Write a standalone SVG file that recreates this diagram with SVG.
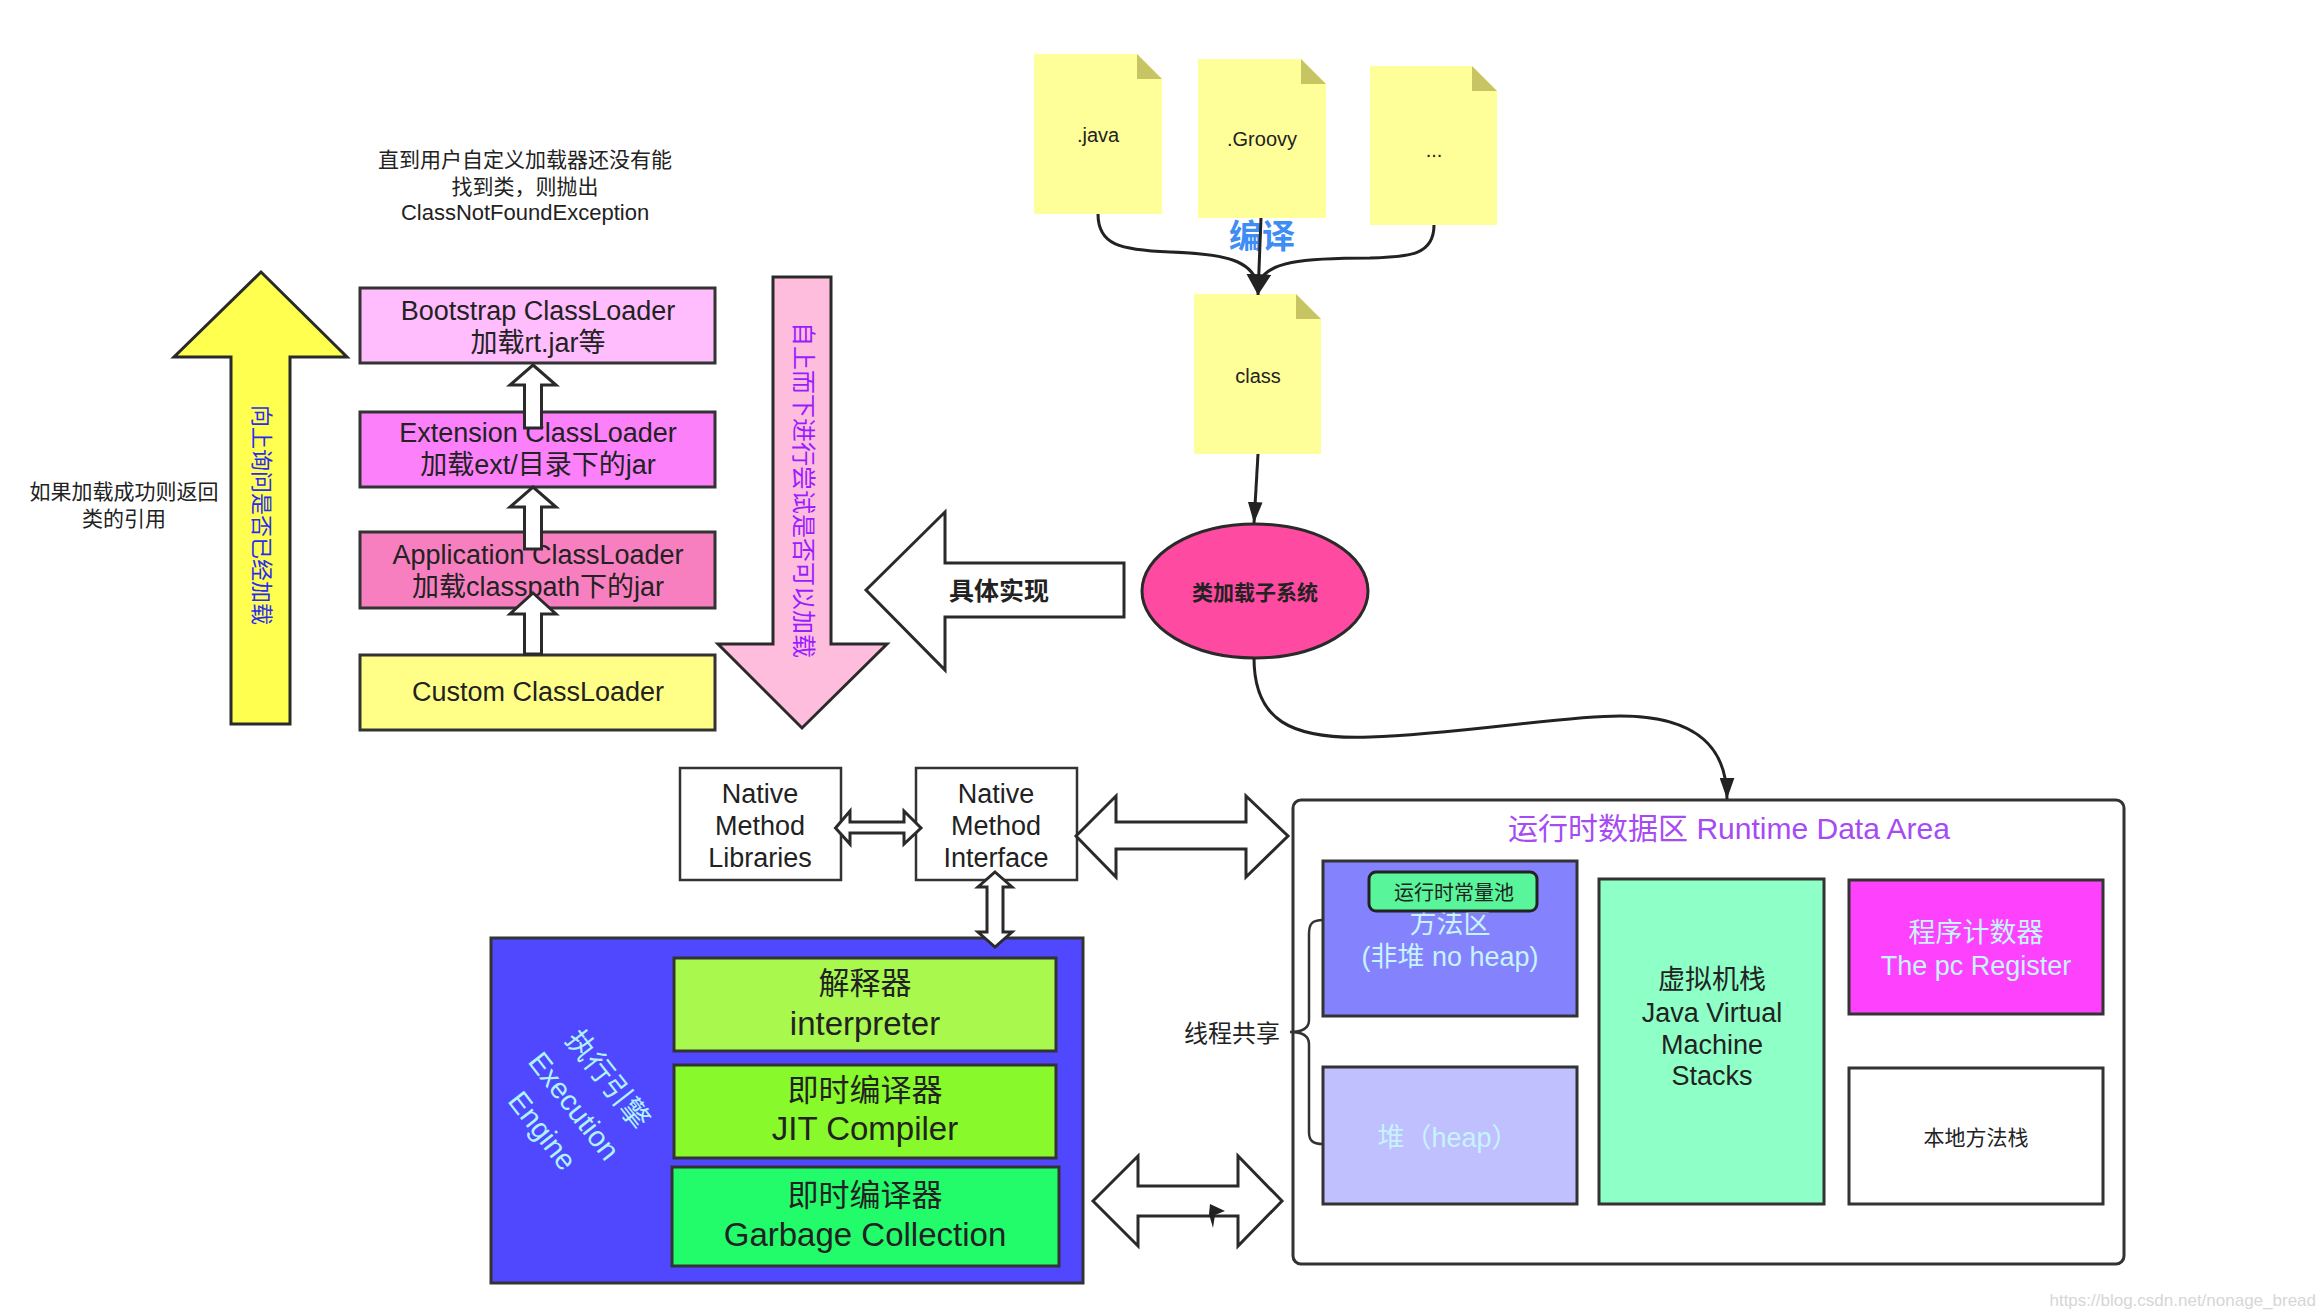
<svg xmlns="http://www.w3.org/2000/svg" width="2320" height="1316" viewBox="0 0 2320 1316">
<style>
text{font-family:'Liberation Sans','Noto Sans CJK SC',sans-serif;dominant-baseline:central;text-anchor:middle;fill:#222}
.box{stroke:#333;stroke-width:3}
.hollow{fill:#fff;stroke:#2a2a2a;stroke-width:3;stroke-linejoin:miter}
.conn{fill:none;stroke:#222;stroke-width:3}
.file{fill:#ffff99}
.fold{fill:#c7c463}
.t20{font-size:20px}
.t21{font-size:21px}
.t27{font-size:27px}
.t31{font-size:31px}
.t33{font-size:33px}
.light{fill:#c6f4ff}
</style>
<defs>
<marker id="arr" viewBox="0 0 20 14" refX="20" refY="7" markerWidth="21" markerHeight="15" markerUnits="userSpaceOnUse" orient="auto"><path d="M0,0 L20,7 L0,14 z" fill="#222"/></marker>
<marker id="arrBig" viewBox="0 0 20 24" refX="20" refY="12" markerWidth="21" markerHeight="25" markerUnits="userSpaceOnUse" orient="auto"><path d="M0,0 L20,12 L0,24 z" fill="#222"/></marker>
</defs>
<rect width="2320" height="1316" fill="#fff"/>

<!-- notes -->
<g id="note-top">
<text class="t21" x="525" y="159">直到用户自定义加载器还没有能</text>
<text class="t21" x="525" y="186">找到类，则抛出</text>
<text x="525" y="212" style="font-size:22px">ClassNotFoundException</text>
</g>
<g id="note-left">
<text class="t21" x="124" y="491">如果加载成功则返回</text>
<text class="t21" x="124" y="518">类的引用</text>
</g>

<!-- big arrows -->
<g id="arrow-up">
<polygon points="261,272 347,357 290,357 290,724 231,724 231,357 174,357" fill="#ffff50" stroke="#2a2a2a" stroke-width="3"/>
<text x="261" y="515" transform="rotate(90 261 515)" style="font-size:22px;fill:#2a2af5">向上询问是否已经加载</text>
</g>
<g id="arrow-down">
<polygon points="773,277 831,277 831,644 887,644 802,728 718,644 773,644" fill="#ffbddd" stroke="#2a2a2a" stroke-width="3"/>
<text x="803" y="490" transform="rotate(90 803 490)" style="font-size:24px;fill:#9b1cff">自上而下进行尝试是否可以加载</text>
</g>
<g id="arrow-impl">
<polygon class="hollow" points="866,590 945,512 945,563 1124,563 1124,617 945,617 945,670"/>
<text x="999" y="591" style="font-size:25px;font-weight:bold">具体实现</text>
</g>

<!-- class loaders -->
<g id="bootstrap">
<rect class="box" x="360" y="288" width="355" height="75" fill="#ffbdfd"/>
<text class="t27" x="538" y="311">Bootstrap ClassLoader</text>
<text class="t27" x="538" y="343">加载rt.jar等</text>
</g>
<g id="extension">
<rect class="box" x="360" y="412" width="355" height="75" fill="#fd80fb"/>
<text class="t27" x="538" y="433">Extension ClassLoader</text>
<text class="t27" x="538" y="465">加载ext/目录下的jar</text>
</g>
<g id="application">
<rect class="box" x="360" y="532" width="355" height="76" fill="#f77fbf"/>
<text class="t27" x="538" y="555">Application ClassLoader</text>
<text class="t27" x="538" y="587">加载classpath下的jar</text>
</g>
<g id="custom">
<rect class="box" x="360" y="655" width="355" height="75" fill="#ffff88"/>
<text class="t27" x="538" y="692">Custom ClassLoader</text>
</g>

<!-- source files -->
<g id="file-java">
<path class="file" d="M1034,54 H1137 L1162,79 V214 H1034 Z"/>
<path class="fold" d="M1137,54 V79 H1162 Z"/>
<text class="t20" x="1098" y="135">.java</text>
</g>
<g id="file-groovy">
<path class="file" d="M1198,59 H1301 L1326,84 V218 H1198 Z"/>
<path class="fold" d="M1301,59 V84 H1326 Z"/>
<text class="t20" x="1262" y="139">.Groovy</text>
</g>
<g id="file-more">
<path class="file" d="M1370,66 H1472 L1497,91 V225 H1370 Z"/>
<path class="fold" d="M1472,66 V91 H1497 Z"/>
<text class="t20" x="1434" y="150">...</text>
</g>
<g id="file-class">
<path class="file" d="M1194,294 H1296 L1321,319 V454 H1194 Z"/>
<path class="fold" d="M1296,294 V319 H1321 Z"/>
<text class="t20" x="1258" y="376">class</text>
</g>
<g id="label-compile">
<text x="1262" y="236" style="font-size:33px;font-weight:bold;fill:#3d8df5">编译</text>
</g>

<!-- class loader subsystem -->
<g id="subsystem">
<ellipse cx="1255" cy="591" rx="113" ry="67" fill="#ff4aa1" stroke="#2a2a2a" stroke-width="3"/>
<text x="1255" y="592" style="font-size:21px;font-weight:bold">类加载子系统</text>
</g>

<!-- native -->
<g id="native-libs">
<rect x="680" y="768" width="161" height="112" fill="#fff" stroke="#333" stroke-width="2.5"/>
<text class="t27" x="760" y="794">Native</text>
<text class="t27" x="760" y="826">Method</text>
<text class="t27" x="760" y="858">Libraries</text>
</g>
<g id="native-interface">
<rect x="916" y="768" width="161" height="112" fill="#fff" stroke="#333" stroke-width="2.5"/>
<text class="t27" x="996" y="794">Native</text>
<text class="t27" x="996" y="826">Method</text>
<text class="t27" x="996" y="858">Interface</text>
</g>

<!-- execution engine -->
<g id="exec-engine">
<rect class="box" x="491" y="938" width="592" height="345" fill="#5048fe"/>
<g transform="translate(574,1106) rotate(52)">
<text x="0" y="-43" style="font-size:29px;fill:#aef4ff">执行引擎</text>
<text x="0" y="0" style="font-size:29px;fill:#aef4ff">Execution</text>
<text x="0" y="40" style="font-size:29px;fill:#aef4ff">Engine</text>
</g>
</g>
<g id="interpreter">
<rect class="box" x="674" y="958" width="382" height="93" fill="#a8f84e"/>
<text class="t31" x="865" y="983">解释器</text>
<text class="t33" x="865" y="1023">interpreter</text>
</g>
<g id="jit">
<rect class="box" x="674" y="1065" width="382" height="93" fill="#88f92a"/>
<text class="t31" x="865" y="1090">即时编译器</text>
<text class="t33" x="865" y="1128">JIT Compiler</text>
</g>
<g id="gc">
<rect class="box" x="672" y="1167" width="387" height="99" fill="#22fc6b"/>
<text class="t31" x="865" y="1195">即时编译器</text>
<text class="t33" x="865" y="1234">Garbage Collection</text>
</g>

<!-- runtime data area -->
<g id="runtime-data-area">
<rect x="1293" y="800" width="831" height="464" rx="8" fill="#fff" stroke="#333" stroke-width="3"/>
<text x="1729" y="828" style="font-size:30px;fill:#a64bf4">运行时数据区 Runtime Data Area</text>
</g>
<g id="method-area">
<rect class="box" x="1323" y="861" width="254" height="155" fill="#8582fe"/>
<text class="t27 light" x="1450" y="924">方法区</text>
<text class="t27 light" x="1450" y="957">(非堆 no heap)</text>
</g>
<g id="constant-pool">
<rect x="1369" y="872" width="168" height="39" rx="7" fill="#58f59a" stroke="#222" stroke-width="3"/>
<text class="t20" x="1454" y="893">运行时常量池</text>
</g>
<g id="heap">
<rect class="box" x="1323" y="1067" width="254" height="137" fill="#c0c0fe"/>
<text class="t27 light" x="1448" y="1138">堆（heap）</text>
</g>
<g id="jvm-stacks">
<rect class="box" x="1599" y="879" width="225" height="325" fill="#8effc6"/>
<text class="t27" x="1712" y="980">虚拟机栈</text>
<text class="t27" x="1712" y="1013">Java Virtual</text>
<text class="t27" x="1712" y="1045">Machine</text>
<text class="t27" x="1712" y="1076">Stacks</text>
</g>
<g id="pc-register">
<rect class="box" x="1849" y="880" width="254" height="134" fill="#fd41fd"/>
<text class="t27 light" x="1976" y="933">程序计数器</text>
<text class="t27 light" x="1976" y="966">The pc Register</text>
</g>
<g id="native-stack">
<rect class="box" x="1849" y="1068" width="254" height="136" fill="#fff"/>
<text class="t21" x="1976" y="1137">本地方法栈</text>
</g>
<g id="thread-shared">
<path d="M1323,920 C1312,920 1309,924 1309,934 L1309,1020 C1309,1028 1302,1032 1290,1032 C1302,1032 1309,1036 1309,1044 L1309,1132 C1309,1140 1312,1144 1323,1144" fill="none" stroke="#333" stroke-width="2.5"/>
<text x="1232" y="1033" style="font-size:24px">线程共享</text>
</g>

<!-- connectors -->
<g id="connectors">
<polygon class="hollow" points="533,365 556,385 541.5,385 541.5,428 524.5,428 524.5,385 510,385"/>
<polygon class="hollow" points="533,487 556,507 541.5,507 541.5,549 524.5,549 524.5,507 510,507"/>
<polygon class="hollow" points="533,593 556,614 541.5,614 541.5,654 524.5,654 524.5,614 510,614"/>
<path class="conn" d="M1098,214 C1098,245 1120,250 1170,252 C1230,254 1250,262 1257,282"/>
<path class="conn" d="M1434,225 C1434,255 1410,257 1370,258 C1300,258 1268,262 1259,282"/>
<path class="conn" d="M1261,218 L1258,295" marker-end="url(#arrBig)"/>
<path class="conn" d="M1258,454 L1254,523" marker-end="url(#arr)"/>
<path class="conn" d="M1254,658 C1254,720 1290,740 1370,737 C1460,734 1560,716 1620,716 C1700,716 1727,750 1727,799" marker-end="url(#arr)"/>
<polygon class="hollow" points="835.5,828 850,811 850,822 904,822 904,811 921,828 904,844 904,833 850,833 850,844"/>
<polygon class="hollow" points="1076,836 1116,796 1116,822 1246,822 1246,796 1288,836 1246,877 1246,849 1116,849 1116,877"/>
<polygon class="hollow" points="995,872 1012,887 1003,887 1003,932 1012,932 995,947 978,932 987,932 987,887 978,887"/>
<polygon class="hollow" points="1093,1201 1138,1156 1138,1186 1238,1186 1238,1156 1282,1201 1238,1246 1238,1216 1138,1216 1138,1246"/>
<polygon points="1210,1204 1225,1211 1215,1215 1213,1228 1209,1214" fill="#222"/>
</g>

<text x="2316" y="1300" style="font-size:17px;fill:#d6d6d6;text-anchor:end">https://blog.csdn.net/nonage_bread</text>
</svg>
